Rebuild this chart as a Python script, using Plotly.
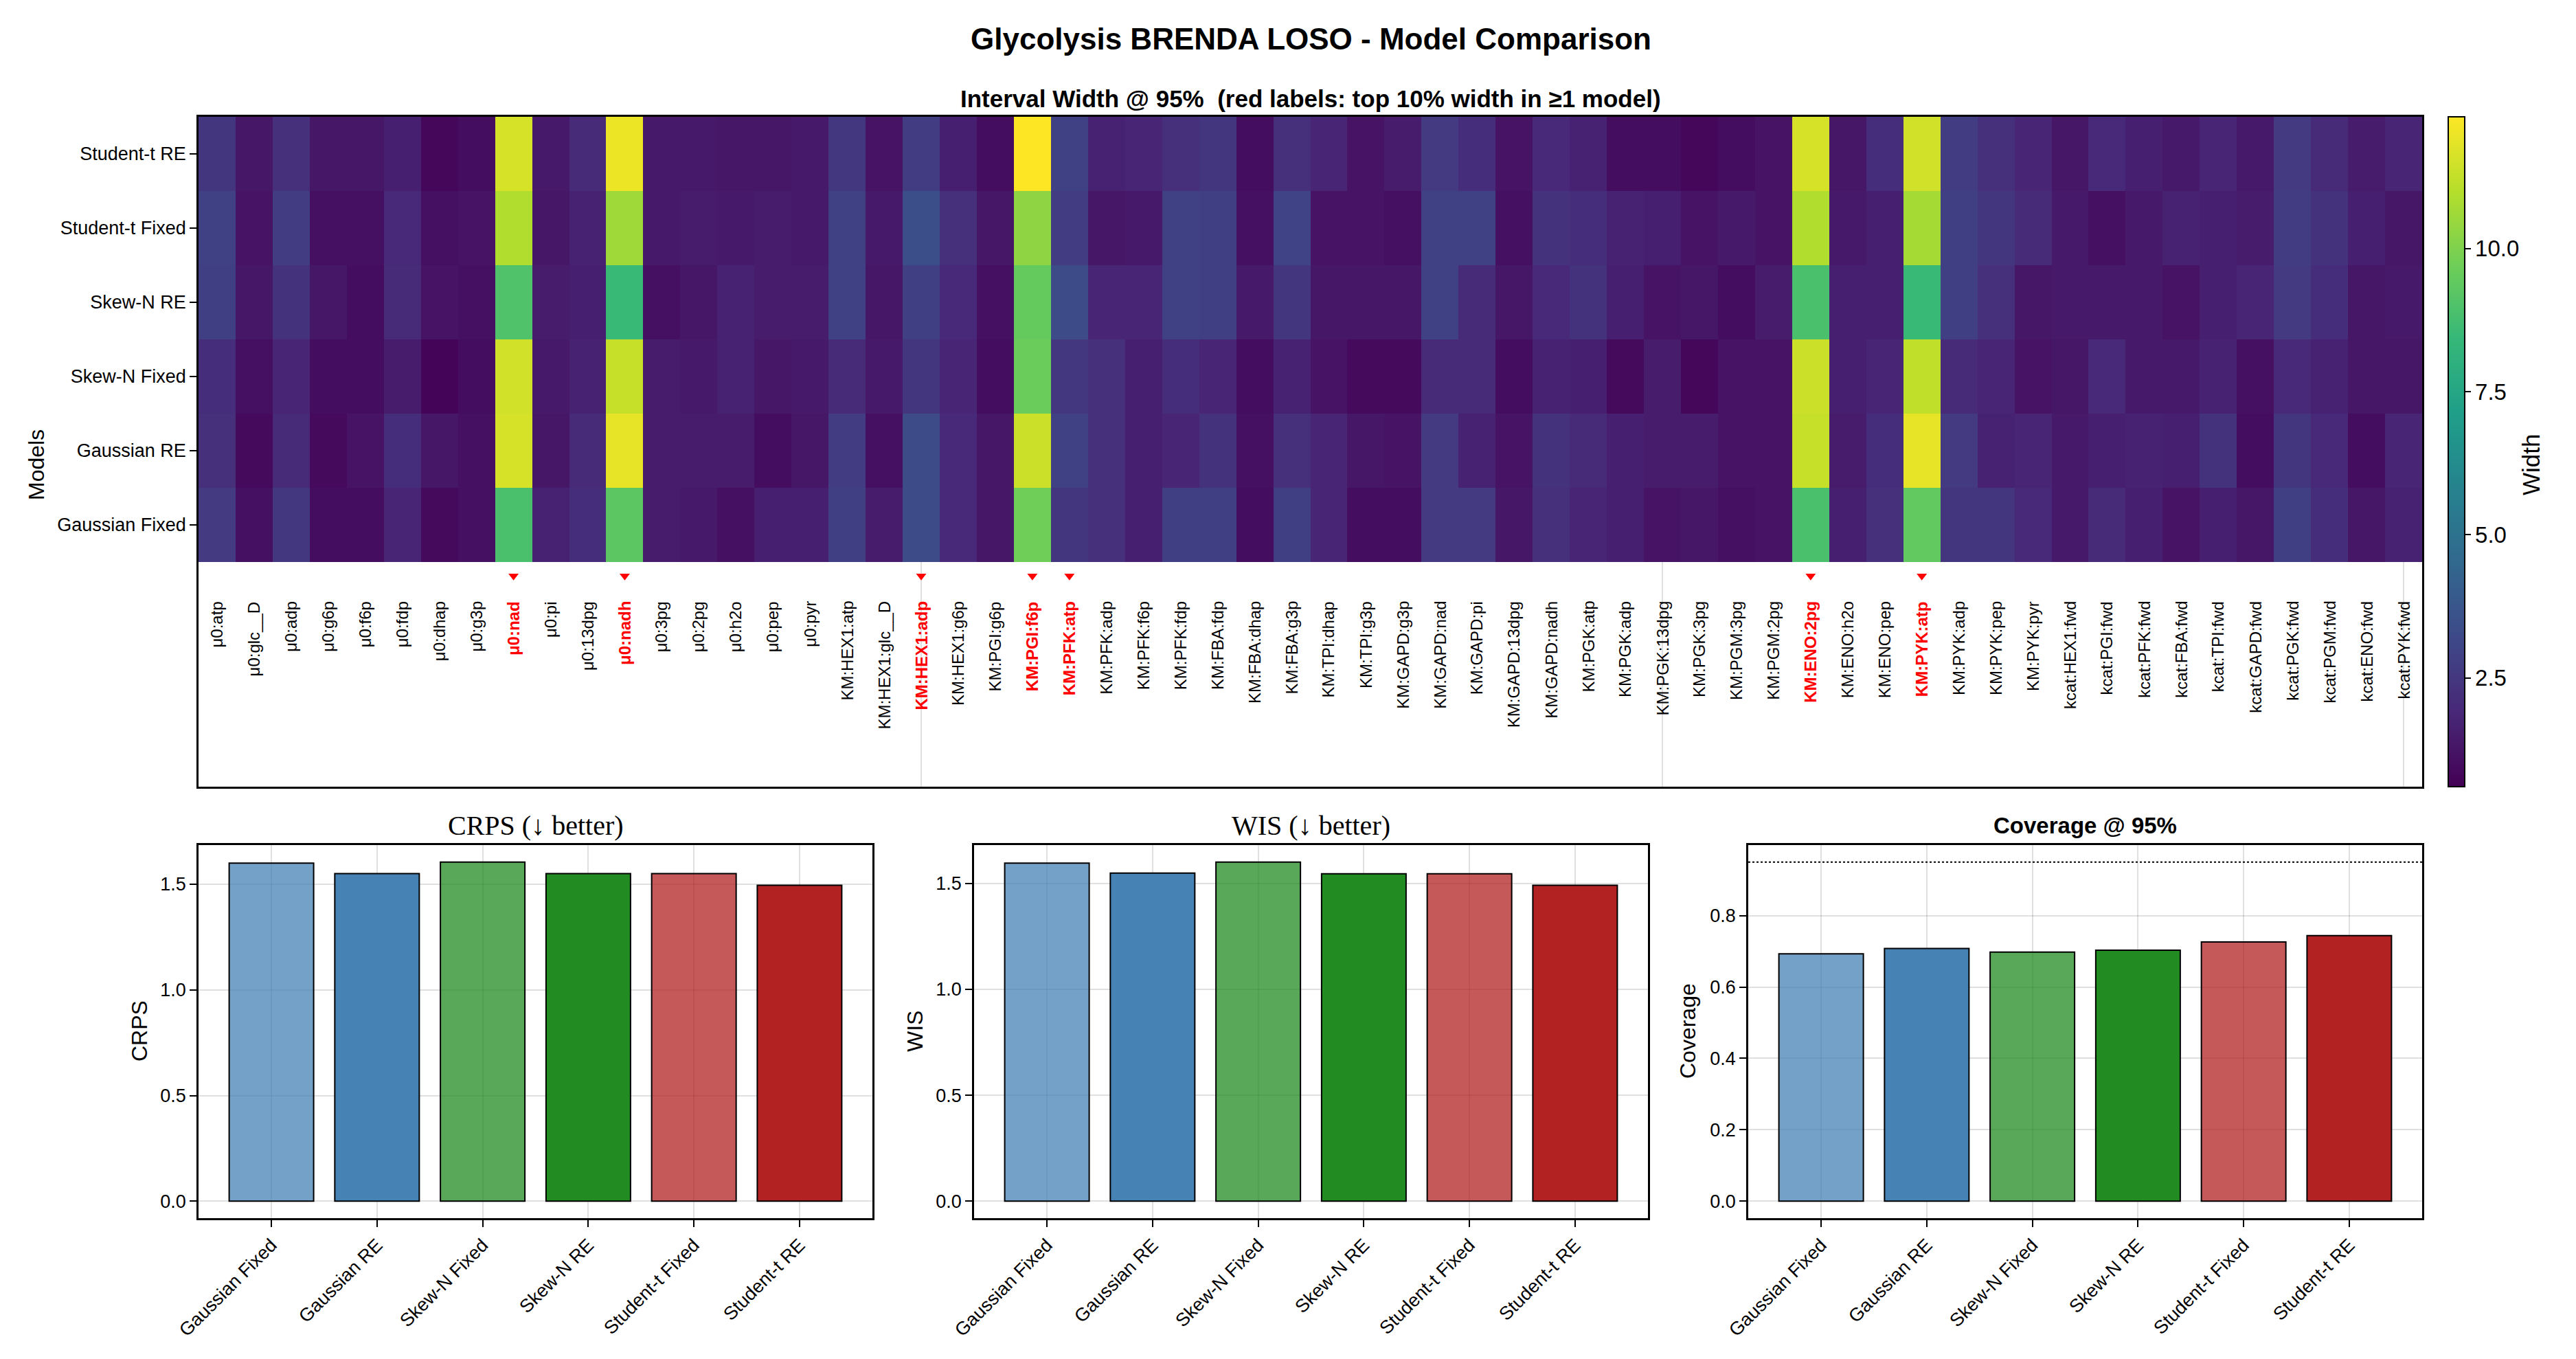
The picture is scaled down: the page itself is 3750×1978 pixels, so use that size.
import plotly.graph_objects as go

# ---------------- data ----------------
PARAMS = [
    "μ0:atp", "μ0:glc__D", "μ0:adp", "μ0:g6p", "μ0:f6p", "μ0:fdp", "μ0:dhap", "μ0:g3p",
    "μ0:nad", "μ0:pi", "μ0:13dpg", "μ0:nadh", "μ0:3pg", "μ0:2pg", "μ0:h2o", "μ0:pep", "μ0:pyr",
    "KM:HEX1:atp", "KM:HEX1:glc__D", "KM:HEX1:adp", "KM:HEX1:g6p", "KM:PGI:g6p", "KM:PGI:f6p",
    "KM:PFK:atp", "KM:PFK:adp", "KM:PFK:f6p", "KM:PFK:fdp", "KM:FBA:fdp", "KM:FBA:dhap",
    "KM:FBA:g3p", "KM:TPI:dhap", "KM:TPI:g3p", "KM:GAPD:g3p", "KM:GAPD:nad", "KM:GAPD:pi",
    "KM:GAPD:13dpg", "KM:GAPD:nadh", "KM:PGK:atp", "KM:PGK:adp", "KM:PGK:13dpg", "KM:PGK:3pg",
    "KM:PGM:3pg", "KM:PGM:2pg", "KM:ENO:2pg", "KM:ENO:h2o", "KM:ENO:pep", "KM:PYK:atp",
    "KM:PYK:adp", "KM:PYK:pep", "KM:PYK:pyr", "kcat:HEX1:fwd", "kcat:PGI:fwd", "kcat:PFK:fwd",
    "kcat:FBA:fwd", "kcat:TPI:fwd", "kcat:GAPD:fwd", "kcat:PGK:fwd", "kcat:PGM:fwd",
    "kcat:ENO:fwd", "kcat:PYK:fwd",
]
HIGHLIGHTED = ["μ0:nad", "μ0:nadh", "KM:HEX1:adp", "KM:PGI:f6p", "KM:PFK:atp", "KM:ENO:2pg", "KM:PYK:atp"]

# interval width @95% per model (one value per parameter above)
W_STUDENT_T_RE = [2.4, 1.3, 2.2, 1.3, 1.3, 1.6, 0.8, 1.0, 11.6, 1.4, 2.0, 12.0, 1.4, 1.4, 1.3,
                  1.3, 1.4, 2.5, 1.2, 2.7, 1.6, 1.0, 12.3, 2.9, 1.7, 1.8, 2.2, 2.4, 1.0, 2.2,
                  1.8, 1.2, 1.5, 2.6, 2.1, 1.2, 1.9, 1.7, 1.0, 1.0, 0.8, 1.0, 1.2, 11.6, 1.3,
                  2.1, 11.5, 2.7, 2.2, 1.8, 1.3, 1.9, 1.6, 1.4, 1.8, 1.4, 2.6, 2.0, 1.5, 1.8]
W_STUDENT_T_FIXED = [2.9, 1.2, 2.7, 1.1, 1.1, 1.9, 1.1, 1.2, 10.9, 1.3, 1.7, 10.6, 1.4, 1.5, 1.4,
                     1.5, 1.4, 2.9, 1.4, 3.4, 2.2, 1.3, 10.3, 2.7, 1.3, 1.4, 2.9, 2.8, 1.1, 3.0,
                     1.2, 1.2, 1.1, 2.9, 2.9, 1.1, 2.3, 2.1, 1.7, 1.6, 1.2, 1.4, 1.2, 10.9, 1.4,
                     1.6, 10.7, 2.8, 2.4, 2.0, 1.4, 1.1, 1.4, 1.7, 1.6, 1.5, 2.7, 2.3, 1.6, 1.3]
W_SKEW_N_RE = [2.8, 1.3, 2.3, 1.3, 1.0, 2.0, 1.2, 1.1, 9.0, 1.5, 1.6, 8.5, 1.1, 1.3, 1.7,
               1.5, 1.5, 2.9, 1.3, 2.8, 1.9, 1.1, 9.5, 3.3, 1.8, 1.8, 2.9, 2.8, 1.4, 2.4,
               1.3, 1.3, 1.3, 2.9, 2.0, 1.3, 1.9, 2.3, 1.6, 1.2, 1.3, 1.0, 1.5, 8.9, 1.6,
               1.6, 8.5, 2.8, 2.2, 1.3, 1.4, 1.4, 1.4, 1.2, 1.6, 1.8, 2.6, 2.1, 1.3, 1.4]
W_SKEW_N_FIXED = [2.1, 1.1, 1.8, 1.0, 1.0, 1.5, 0.7, 1.0, 11.5, 1.4, 1.7, 11.3, 1.5, 1.4, 1.7,
                  1.3, 1.4, 2.0, 1.4, 2.4, 1.8, 1.0, 9.6, 2.5, 2.2, 1.6, 2.1, 1.8, 1.0, 1.7,
                  1.2, 0.9, 0.9, 2.0, 2.0, 1.0, 1.7, 1.6, 0.9, 1.5, 0.8, 1.2, 1.2, 11.4, 1.6,
                  1.8, 11.2, 2.0, 1.8, 1.2, 1.3, 1.9, 1.4, 1.4, 1.7, 1.1, 1.9, 1.7, 1.3, 1.3]
W_GAUSSIAN_RE = [2.2, 0.9, 2.0, 0.9, 1.2, 2.1, 1.3, 1.1, 11.6, 1.3, 2.0, 11.9, 1.5, 1.5, 1.5,
                 1.0, 1.3, 2.7, 1.1, 3.3, 1.9, 1.3, 11.4, 2.9, 2.2, 1.6, 1.8, 2.3, 1.1, 2.2,
                 1.8, 1.3, 1.2, 2.6, 1.7, 1.2, 2.3, 2.0, 1.6, 1.5, 1.5, 1.2, 1.2, 11.3, 1.5,
                 2.1, 11.9, 2.6, 1.7, 1.8, 1.4, 1.6, 1.7, 1.6, 2.3, 1.0, 2.4, 1.9, 1.0, 1.8]
W_GAUSSIAN_FIXED = [2.6, 1.1, 2.5, 1.0, 1.0, 1.8, 0.9, 1.1, 8.9, 1.7, 2.1, 9.3, 1.5, 1.4, 1.1,
                    1.6, 1.6, 2.8, 1.5, 3.3, 1.9, 1.3, 9.7, 2.4, 2.2, 1.6, 2.8, 2.8, 1.0, 2.8,
                    1.8, 1.0, 1.0, 2.6, 2.6, 1.3, 2.2, 1.8, 1.6, 1.2, 1.3, 1.1, 1.2, 8.9, 1.6,
                    2.2, 9.4, 2.4, 2.4, 1.9, 1.4, 2.0, 1.6, 1.2, 1.6, 1.3, 2.8, 2.1, 1.3, 1.7]

HEAT_MODELS = ["Gaussian Fixed", "Gaussian RE", "Skew-N Fixed", "Skew-N RE", "Student-t Fixed", "Student-t RE"]
HEAT_ROWS = [W_GAUSSIAN_FIXED, W_GAUSSIAN_RE, W_SKEW_N_FIXED, W_SKEW_N_RE, W_STUDENT_T_FIXED, W_STUDENT_T_RE]
COLOR_MIN, COLOR_MAX = 0.6, 12.3
CB_TICKS = [2.5, 5.0, 7.5, 10.0]

BAR_MODELS = ["Gaussian Fixed", "Gaussian RE", "Skew-N Fixed", "Skew-N RE", "Student-t Fixed", "Student-t RE"]
CRPS = [1.60, 1.55, 1.605, 1.55, 1.55, 1.495]
WIS = [1.595, 1.548, 1.60, 1.545, 1.545, 1.49]
COVERAGE = [0.693, 0.708, 0.698, 0.703, 0.726, 0.744]
COVERAGE_TARGET = 0.95
BAR_COLORS = ["rgba(70,130,180,0.75)", "rgb(70,130,180)", "rgba(34,139,34,0.75)",
              "rgb(34,139,34)", "rgba(178,34,34,0.75)", "rgb(178,34,34)"]

# ---------------- layout helpers ----------------
W, H = 3750, 1978
FONT = "Liberation Sans"
def fx(p): return p / W
def fy(p): return 1 - p / H

fig = go.Figure()

# ---------------- heatmap ----------------
n = len(PARAMS)
xs = list(range(1, n + 1))
ys = list(range(1, len(HEAT_MODELS) + 1))
fig.add_trace(go.Heatmap(
    x=xs, y=ys, z=HEAT_ROWS, colorscale="Viridis", zmin=COLOR_MIN, zmax=COLOR_MAX,
    xaxis="x", yaxis="y", showscale=True, zsmooth=False,
    colorbar=dict(
        x=fx(3564), xanchor="left", xpad=0, ypad=0,
        y=fy(170), yanchor="top", len=(1145 - 170) / H, lenmode="fraction",
        thickness=24, thicknessmode="pixels",
        outlinewidth=2, outlinecolor="black",
        tickvals=CB_TICKS, ticktext=[f"{v:.1f}" for v in CB_TICKS],
        ticks="outside", ticklen=8, tickwidth=2, tickcolor="black",
        tickfont=dict(family=FONT, size=33, color="black"),
    ),
))

hl_x = [i + 1 for i, p in enumerate(PARAMS) if p in HIGHLIGHTED]
fig.add_trace(go.Scatter(
    x=hl_x, y=[0.31] * len(hl_x), mode="markers", xaxis="x", yaxis="y",
    marker=dict(symbol="triangle-down", size=13, color="red", line=dict(width=0)),
    showlegend=False, hoverinfo="skip",
))

for i, p in enumerate(PARAMS):
    red = p in HIGHLIGHTED
    fig.add_annotation(
        x=i + 1, y=-0.02, xref="x", yref="y", text=(f"<b>{p}</b>" if red else p),
        textangle=-90, xanchor="center", yanchor="top", showarrow=False, borderpad=0,
        font=dict(family=FONT, size=24, color="red" if red else "black"),
    )

fig.update_layout(
    xaxis=dict(domain=[fx(289), fx(3526)], range=[0.5, n + 0.5], anchor="y", automargin=False,
               tickvals=[20, 40, 60], showticklabels=False, ticks="",
               showgrid=True, gridcolor="rgba(0,0,0,0.12)", gridwidth=2, zeroline=False,
               showline=True, mirror=True, linecolor="black", linewidth=2.5),
    yaxis=dict(domain=[fy(1145), fy(170)], range=[-2.53, 6.5], anchor="x", automargin=False,
               tickvals=ys, ticktext=HEAT_MODELS, ticks="outside", ticklen=10, tickwidth=2,
               tickcolor="black", showgrid=False, zeroline=False,
               tickfont=dict(family=FONT, size=27, color="black"),
               showline=True, mirror=True, linecolor="black", linewidth=2.5),
)

# ---------------- bar panels ----------------
panels = [
    (CRPS, "x2", "y2", 289, 1270, [0.0, 0.5, 1.0, 1.5], "CRPS", "CRPS (↓ better)", True, 203),
    (WIS, "x3", "y3", 1418, 2399, [0.0, 0.5, 1.0, 1.5], "WIS", "WIS (↓ better)", True, 1332),
    (COVERAGE, "x4", "y4", 2545, 3526, [0.0, 0.2, 0.4, 0.6, 0.8], "Coverage", "<b>Coverage @ 95%</b>", False, 2457),
]
bx = list(range(1, len(BAR_MODELS) + 1))
for vals, xa, ya, left, right, yt, ylab, title, serif, ylab_x in panels:
    fig.add_trace(go.Bar(
        x=bx, y=vals, width=0.8, xaxis=xa, yaxis=ya, showlegend=False,
        marker=dict(color=BAR_COLORS, line=dict(color="black", width=2)),
    ))
    top = max(vals + ([COVERAGE_TARGET] if ylab == "Coverage" else []))
    yr = [-0.05 * top, 1.05 * top]
    ax_common = dict(showline=True, mirror=True, linecolor="black", linewidth=2.5, automargin=False,
                     ticks="outside", ticklen=10, tickwidth=2, tickcolor="black",
                     showgrid=True, gridcolor="rgba(0,0,0,0.12)", gridwidth=2, zeroline=False,
                     tickfont=dict(family=FONT, size=27, color="black"))
    fig.layout[xa.replace("x", "xaxis")] = dict(
        domain=[fx(left), fx(right)], range=[0.31, 6.69], anchor=ya,
        tickvals=bx, ticktext=BAR_MODELS, tickangle=-45, **ax_common)
    fig.layout[ya.replace("y", "yaxis")] = dict(
        domain=[fy(1773), fy(1230)], range=yr, anchor=xa,
        tickvals=yt, ticktext=[f"{v:.1f}" for v in yt], **ax_common)
    fig.add_annotation(
        x=(fx(left) + fx(right)) / 2, y=fy(1201), xref="paper", yref="paper", text=title,
        showarrow=False, xanchor="center", yanchor="middle",
        font=dict(family="Liberation Serif" if serif else FONT, size=40 if serif else 33, color="black"),
    )
    fig.add_annotation(
        x=fx(ylab_x), y=fy(1501), xref="paper", yref="paper", text=ylab, textangle=-90,
        showarrow=False, xanchor="center", yanchor="middle",
        font=dict(family=FONT, size=32, color="black"),
    )

fig.add_shape(type="line", xref="x4 domain", yref="y4", x0=0, x1=1,
              y0=COVERAGE_TARGET, y1=COVERAGE_TARGET,
              line=dict(color="black", width=2, dash="dot"))

# ---------------- titles ----------------
fig.add_annotation(x=fx(1908), y=fy(57), xref="paper", yref="paper",
                   text="<b>Glycolysis BRENDA LOSO - Model Comparison</b>", showarrow=False,
                   xanchor="center", yanchor="middle", font=dict(family=FONT, size=44, color="black"))
fig.add_annotation(x=(fx(289) + fx(3526)) / 2, y=fy(143), xref="paper", yref="paper",
                   text="<b>Interval Width @ 95%  (red labels: top 10% width in ≥1 model)</b>",
                   showarrow=False, xanchor="center", yanchor="middle",
                   font=dict(family=FONT, size=35, color="black"))
fig.add_annotation(x=fx(53), y=fy(677), xref="paper", yref="paper", text="Models", textangle=-90,
                   showarrow=False, xanchor="center", yanchor="middle",
                   font=dict(family=FONT, size=32, color="black"))
fig.add_annotation(x=fx(3685), y=fy(677), xref="paper", yref="paper", text="Width", textangle=-90,
                   showarrow=False, xanchor="center", yanchor="middle",
                   font=dict(family=FONT, size=35, color="black"))

fig.update_layout(
    width=W, height=H, margin=dict(l=0, r=0, t=0, b=0, autoexpand=False),
    paper_bgcolor="white", plot_bgcolor="white", showlegend=False, bargap=0.2,
)

fig.write_html("out.html")
